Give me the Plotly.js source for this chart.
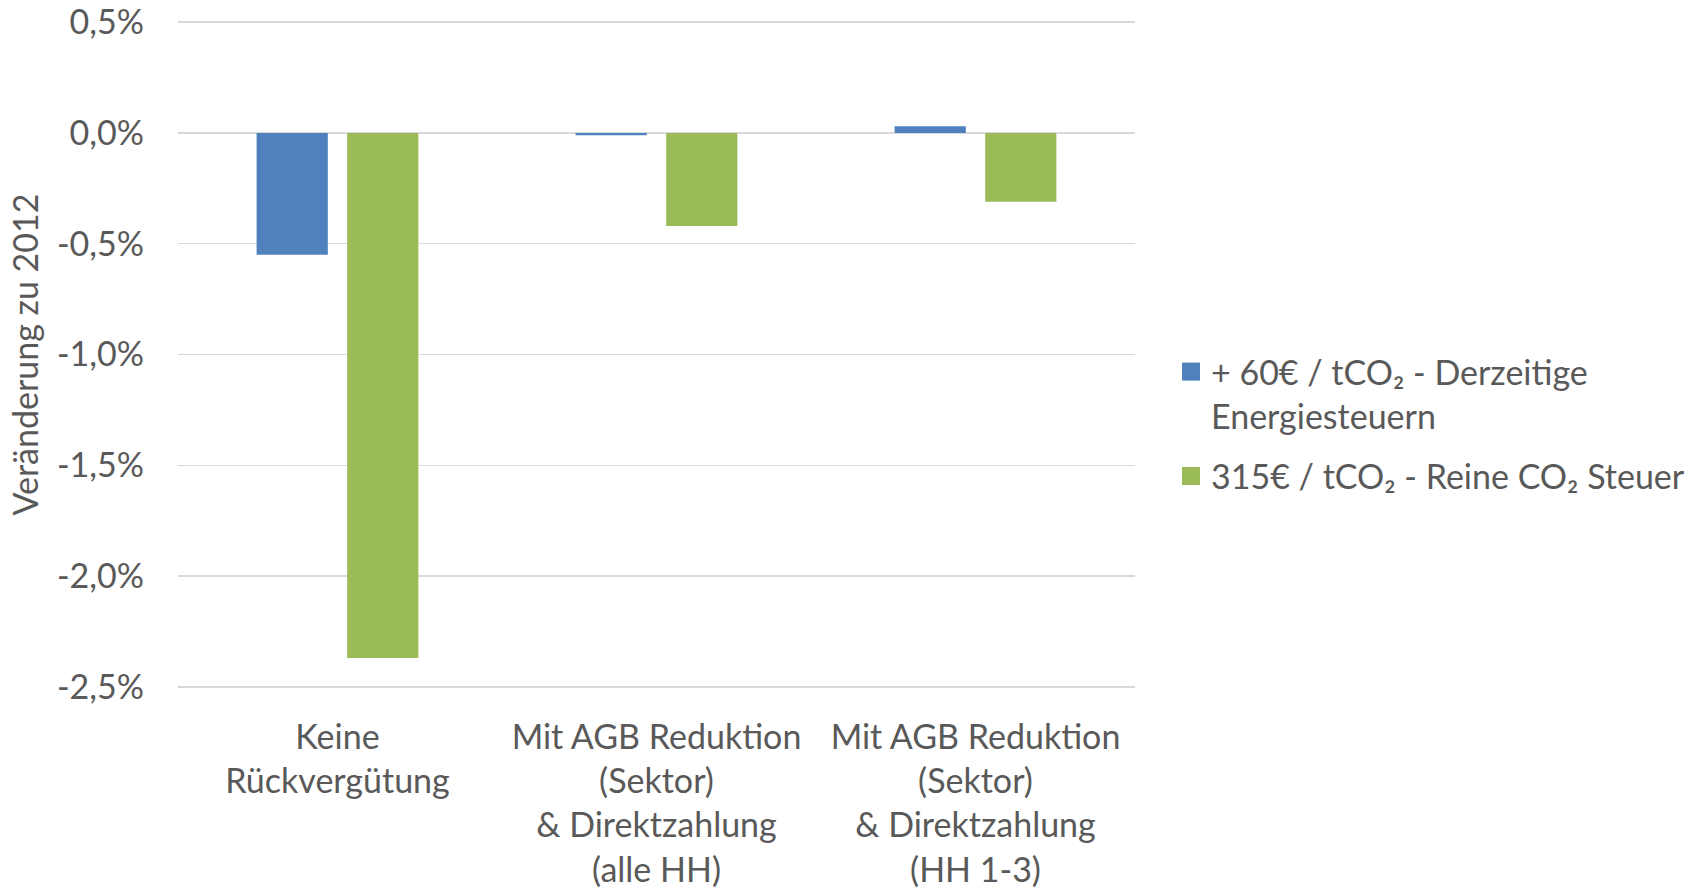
<!DOCTYPE html>
<html>
<head>
<meta charset="utf-8">
<script src="https://cdn.plot.ly/plotly-3.0.1.min.js"></script>
<style>html,body{margin:0;padding:0;background:#fff;}#chart{width:1692px;height:891px;}</style>
</head>
<body>
<div id="chart"></div>
<script>
const categories = [
  "Keine<br>Rückvergütung",
  "Mit AGB Reduktion<br>(Sektor)<br>& Direktzahlung<br>(alle HH)",
  "Mit AGB Reduktion<br>(Sektor)<br>& Direktzahlung<br>(HH 1-3)"
];
const seriesNames = [
  "+ 60€ / tCO₂ - Derzeitige<br>Energiesteuern",
  "315€ / tCO₂ - Reine CO₂ Steuer"
];
const blueValues = [-0.0055, -0.0001, 0.0003];
const greenValues = [-0.0237, -0.0042, -0.0031];
const tickValues = [0.005, 0, -0.005, -0.010, -0.015, -0.020, -0.025];
const tickLabels = ["0,5%", "0,0%", "-0,5%", "-1,0%", "-1,5%", "-2,0%", "-2,5%"];
const yTitle = "Veränderung zu 2012";

const textColor = "#595959";
const fontFamily = "Lato, 'Open Sans', sans-serif";

const traces = [
  {type: "bar", name: seriesNames[0], x: categories, y: blueValues, legendgroup: "g1",
   marker: {color: "#4F81BD", line: {width: 0}}},
  {type: "bar", name: seriesNames[1], x: categories, y: greenValues, legendgroup: "g2",
   marker: {color: "#9BBB59", line: {width: 0}}}
];

const layout = {
  width: 1692, height: 891,
  paper_bgcolor: "#fff", plot_bgcolor: "#fff",
  font: {family: fontFamily, size: 34, color: textColor},
  margin: {l: 178, r: 557, t: 20, b: 202, autoexpand: false},
  barmode: "group",
  bargap: 0.432,
  bargroupgap: 0.214,
  showlegend: true,
  legend: {
    x: 1171 / 1692, xref: "container", xanchor: "left",
    y: 1 - 343 / 891, yref: "container", yanchor: "top",
    valign: "top", font: {size: 34, color: textColor, family: fontFamily},
    tracegroupgap: 13, bgcolor: "rgba(0,0,0,0)"
  },
  xaxis: {
    type: "category", showgrid: false, zeroline: false, showline: false,
    ticks: "", ticklabelstandoff: 25,
    tickfont: {size: 34, color: textColor}, automargin: false
  },
  yaxis: {
    range: [-0.0251, 0.0051], tickvals: tickValues, ticktext: tickLabels,
    showgrid: true, gridcolor: "#D9D9D9", gridwidth: 1.5,
    zeroline: false, showline: false, ticks: "",
    ticklabelstandoff: 33,
    tickfont: {size: 34, color: textColor}, automargin: true,
    title: {text: yTitle, font: {size: 34, color: textColor}, standoff: 8}
  }
};

Plotly.newPlot("chart", traces, layout, {displayModeBar: false, staticPlot: true}).then(function () {
  document.querySelectorAll(".legend .legendpoints path").forEach(function (p) {
    p.setAttribute("d", "M9,9H-9V-9H9Z");
  });
});
</script>
</body>
</html>
